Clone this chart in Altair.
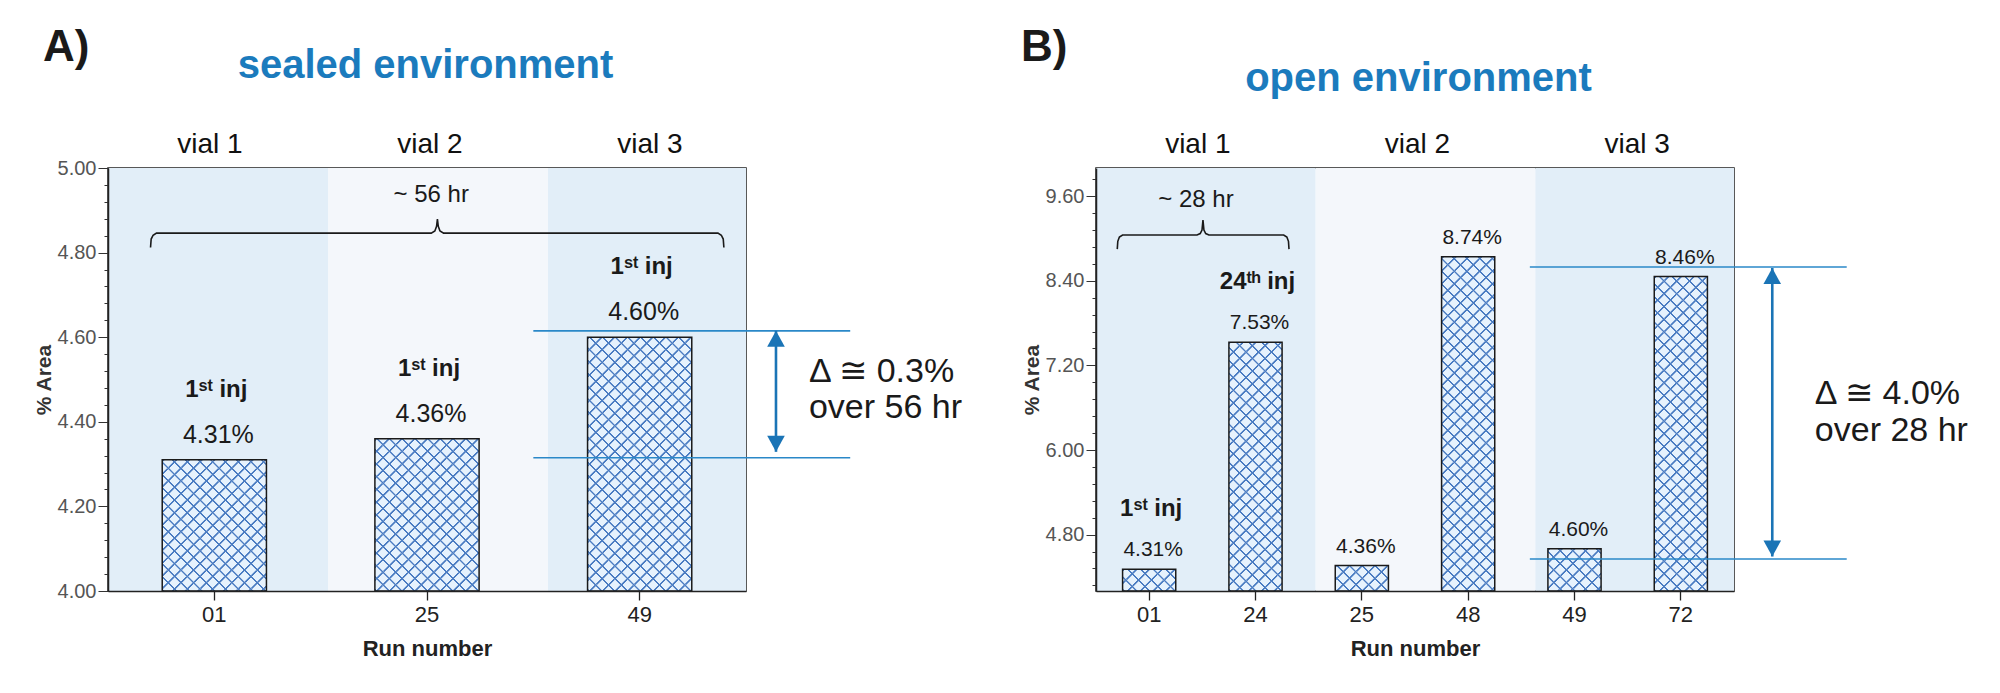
import math
import altair as alt

FONT = "Liberation Sans"
BLUE = "#1b7bbd"
ARROW = "#1a74b6"
RULE = "#2a88c8"
LINE = "#4a7cc2"
LIGHT = "#e6f2fd"
INK = "#1a1a1a"
BAND_COLORS = ["#e2eef8", "#f4f7fb", "#e2eef8"]

# ---------------- data ----------------
vials = ["vial 1", "vial 2", "vial 3"]

a_runs = ["01", "25", "49"]
a_values = [4.31, 4.36, 4.60]
a_inj_runs = ["01", "25", "49"]
a_inj_text = ["1ˢᵗ inj", "1ˢᵗ inj", "1ˢᵗ inj"]
a_yticks = [4.0, 4.2, 4.4, 4.6, 4.8, 5.0]

b_runs = ["01", "24", "25", "48", "49", "72"]
b_values = [4.31, 7.53, 4.36, 8.74, 4.60, 8.46]
b_inj_runs = ["01", "24"]
b_inj_text = ["1ˢᵗ inj", "24ᵗʰ inj"]
b_yticks = [4.8, 6.0, 7.2, 8.4, 9.6]

# annotations (x in run-index units, y in % Area units)
a_brace_x = [-0.300, -0.297, -0.288, -0.272, 1.020, 1.037, 1.045, 1.049, 1.053, 1.061, 1.078, 2.368, 2.384, 2.393, 2.396]
a_brace_y = [4.812, 4.832, 4.841, 4.846, 4.846, 4.851, 4.862, 4.879, 4.862, 4.851, 4.846, 4.846, 4.841, 4.832, 4.812]
a_hr = ("~ 56 hr", 1.02, 4.936)
a_rules_y = [4.615, 4.315]
a_rules_x = (1.50, 2.99)
a_arrow = (2.641, 4.615, 4.329)
a_delta = (["Δ ≅ 0.3%", "over 56 hr"], 2.796, [4.518, 4.433])

b_brace_x = [-0.300, -0.295, -0.280, -0.250, 0.450, 0.480, 0.497, 0.506, 0.515, 0.532, 0.562, 1.265, 1.295, 1.310, 1.315]
b_brace_y = [8.85, 8.96, 9.02, 9.05, 9.05, 9.07, 9.12, 9.26, 9.12, 9.07, 9.05, 9.05, 9.02, 8.96, 8.85]
b_hr = ("~ 28 hr", 0.44, 9.55)
b_rules_y = [8.596, 4.454]
b_rules_x = (3.58, 6.56)
b_arrow = (5.86, 8.58, 4.49)
b_delta = (["Δ ≅ 4.0%", "over 28 hr"], 6.26, [6.79, 6.27])

W, H = 638, 423


def hatch(w, h, direction, line_color, bg_color, period=9.0):
    """Linear-gradient stripes at 45 degrees in screen space for a w x h box."""
    s2 = math.sqrt(2.0)
    n = int(math.ceil((w + h) / (s2 * period))) + 1
    g = 1.0 / (n * period)
    gx, gy = g / s2, direction * g / s2
    den = gx * gx * w * w + gy * gy * h * h
    a, b = gx * w / den, gy * h / den
    x1, y1 = 0.0, (0.0 if direction > 0 else 1.0)
    stops = []
    for k in range(n):
        for u, c in ((0.0, bg_color), (0.06, line_color), (0.18, line_color), (0.24, bg_color)):
            stops.append({"offset": round((k + u) / n, 6), "color": c})
    stops.append({"offset": 1.0, "color": bg_color})
    return {"gradient": "linear", "x1": x1, "y1": y1, "x2": x1 + a, "y2": y1 + b, "stops": stops}


def panel(runs, values, inj_runs, inj_text, ymin, ymax, yticks, yminor, pad_inner,
          vial_range, env_title, env_pad, env_x, letter, letter_dx, letter_offset,
          val_size, val_dy, inj_dy, brace_x, brace_y, hr, rules_y, rules_x, arrow, delta):
    n = len(runs)
    bw = (W / n) * (1 - pad_inner)
    recs = []
    for r, v in zip(runs, values):
        hpx = (v - ymin) / (ymax - ymin) * H
        recs.append({"run": r, "value": v, "label": f"{v:.2f}%",
                     "g1": hatch(bw, hpx, 1, LINE, LIGHT),
                     "g2": hatch(bw, hpx, -1, LINE, "rgba(255,255,255,0)")})
    bars_data = alt.Data(values=recs)
    inj_data = alt.Data(values=[{"run": r, "value": values[runs.index(r)], "t": t}
                                for r, t in zip(inj_runs, inj_text)])

    yscale = alt.Scale(domain=[ymin, ymax], nice=False, zero=False)

    # background vial bands with top axis (vial labels + environment title)
    bg = alt.Chart(alt.Data(values=[{"vial": v} for v in vials])).mark_rect(clip=True).encode(
        x=alt.X("vial:N",
                scale=alt.Scale(domain=vials, range=vial_range, paddingInner=0, paddingOuter=0),
                axis=alt.Axis(orient="top", title=env_title, titleColor=BLUE, titleFontSize=40,
                              titleFontWeight="bold", titlePadding=env_pad, titleX=env_x,
                              labelFontSize=28, labelColor="#111", labelPadding=10, labelOffset=-8,
                              ticks=False, tickSize=0, domain=False, labelAngle=0, zindex=1)),
        y=alt.YDatum(ymax, type="quantitative", scale=yscale,
                     axis=alt.Axis(orient="left", values=yminor, labels=False, tickSize=4,
                                   tickColor="#333", tickWidth=1, domain=False, grid=False,
                                   title=None, zindex=1)),
        y2=alt.Y2Datum(ymin),
        color=alt.Color("vial:N", scale=alt.Scale(domain=vials, range=BAND_COLORS), legend=None),
    )

    xenc = alt.X("run:N",
                 scale=alt.Scale(domain=runs, paddingInner=pad_inner, paddingOuter=pad_inner / 2),
                 axis=alt.Axis(orient="bottom", title="Run number", labelAngle=0, labelFontSize=22,
                               labelColor="#222", tickSize=9, tickColor="#222", tickWidth=1.3,
                               domainColor="#222", domainWidth=1.5, titleFontSize=22,
                               titleFontWeight="bold", titleColor="#222", titlePadding=13,
                               labelPadding=4, zindex=1))
    yenc = alt.Y("value:Q", scale=yscale,
                 axis=alt.Axis(orient="left", values=yticks, format=".2f", title="% Area",
                               labelFontSize=20, labelColor="#555", tickSize=10, tickColor="#333",
                               tickWidth=1, domainColor="#222", domainWidth=1.5, labelPadding=2,
                               titleFontSize=21, titleFontWeight="bold", titleColor="#333",
                               titlePadding=3, grid=False, zindex=1))

    bar1 = alt.Chart(bars_data).mark_bar(strokeWidth=0).encode(
        x=xenc, y=yenc, y2=alt.Y2Datum(ymin), fill=alt.Fill("g1:N", scale=None))
    bar2 = alt.Chart(bars_data).mark_bar(stroke=INK, strokeWidth=1.5).encode(
        x=xenc, y=yenc, y2=alt.Y2Datum(ymin), fill=alt.Fill("g2:N", scale=None))
    vtext = alt.Chart(bars_data).mark_text(dy=val_dy, dx=4, fontSize=val_size, color=INK).encode(
        x=xenc, y=yenc, text="label:N")
    itext = alt.Chart(inj_data).mark_text(dy=inj_dy, dx=2, fontSize=24, fontWeight="bold",
                                           color=INK).encode(x=xenc, y=yenc, text="t:N")
    main = alt.layer(bar1, bar2, vtext, itext)

    # annotations
    xi = alt.Scale(domain=[-0.5, n - 0.5], nice=False, zero=False)
    brace = alt.Chart(alt.Data(values=[{"i": i, "xi": x, "yv": y}
                                       for i, (x, y) in enumerate(zip(brace_x, brace_y))])).mark_line(
        color=INK, strokeWidth=1.6).encode(
        x=alt.X("xi:Q", scale=xi, axis=None), y=alt.Y("yv:Q", scale=yscale, axis=None), order="i:Q")
    hr_t = alt.Chart(alt.Data(values=[{"t": hr[0], "xi": hr[1], "yv": hr[2]}])).mark_text(
        fontSize=24, color=INK).encode(
        x=alt.X("xi:Q", scale=xi, axis=None), y=alt.Y("yv:Q", scale=yscale, axis=None), text="t:N")
    hrules = alt.Chart(alt.Data(values=[{"xi": rules_x[0], "xe": rules_x[1], "yv": y} for y in rules_y])).mark_rule(
        color=RULE, strokeWidth=1.6).encode(
        x=alt.X("xi:Q", scale=xi, axis=None), x2="xe:Q", y=alt.Y("yv:Q", scale=yscale, axis=None))
    arr = alt.Chart(alt.Data(values=[{"xi": arrow[0], "yv": arrow[1], "ye": arrow[2]}])).mark_rule(
        color=ARROW, strokeWidth=2.6).encode(
        x=alt.X("xi:Q", scale=xi, axis=None), y=alt.Y("yv:Q", scale=yscale, axis=None), y2="ye:Q")
    head_up = alt.Chart(alt.Data(values=[{"xi": arrow[0], "yv": arrow[1]}])).mark_point(
        shape="M0,0L0.55,1L-0.55,1Z", size=1024, filled=True, opacity=1, color=ARROW).encode(
        x=alt.X("xi:Q", scale=xi, axis=None), y=alt.Y("yv:Q", scale=yscale, axis=None))
    head_dn = alt.Chart(alt.Data(values=[{"xi": arrow[0], "yv": arrow[2]}])).mark_point(
        shape="M0,0L0.55,-1L-0.55,-1Z", size=1024, filled=True, opacity=1, color=ARROW).encode(
        x=alt.X("xi:Q", scale=xi, axis=None), y=alt.Y("yv:Q", scale=yscale, axis=None))
    dtext = alt.Chart(alt.Data(values=[{"t": t, "xi": delta[1], "yv": y}
                                       for t, y in zip(delta[0], delta[2])])).mark_text(
        align="left", fontSize=34, color=INK).encode(
        x=alt.X("xi:Q", scale=xi, axis=None), y=alt.Y("yv:Q", scale=yscale, axis=None), text="t:N")
    annot = alt.layer(brace, hr_t, hrules, arr, head_up, head_dn, dtext)

    return alt.layer(bg, main, annot).resolve_scale(x="independent").resolve_axis(
        y="independent").properties(
        width=W, height=H,
        title=alt.TitleParams(letter, anchor="start", frame="group", dx=letter_dx, offset=letter_offset,
                              fontSize=44, fontWeight="bold", color=INK))


a_minor = [round(4.0 + 0.04 * i, 2) for i in range(26)]
b_minor = [round(4.08 + 0.24 * i, 2) for i in range(25)]

pA = panel(a_runs, a_values, a_inj_runs, a_inj_text, 4.0, 5.0, a_yticks, a_minor, 0.51,
           [0, 660], "sealed environment", 45, 317, "A)", -65, -25,
           25, -25, -70, a_brace_x, a_brace_y, a_hr, a_rules_y, a_rules_x, a_arrow, a_delta)
pB = panel(b_runs, b_values, b_inj_runs, b_inj_text, 4.0, 10.0, b_yticks, b_minor, 0.5,
           [0, 659], "open environment", 32, 322, "B)", -75, -12,
           21, -19, -60, b_brace_x, b_brace_y, b_hr, b_rules_y, b_rules_x, b_arrow, b_delta)

chart = alt.hconcat(pA, pB, spacing=350, bounds="flush").configure(
    font=FONT, padding={"left": 24, "top": 17, "right": 5, "bottom": 5}
).configure_view(stroke="#222", strokeWidth=1.5)

chart.save("out.html", embed_options={"renderer": "svg", "actions": False})
